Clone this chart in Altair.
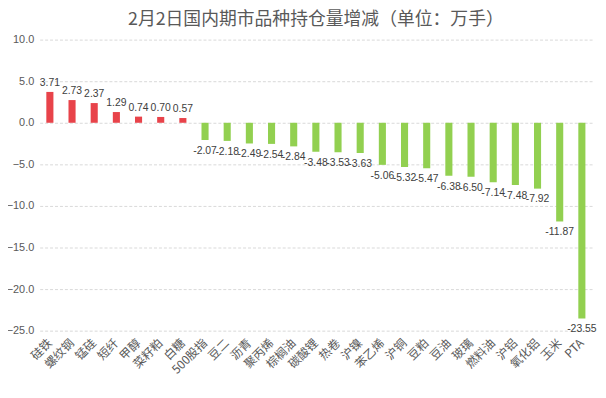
import altair as alt
import pandas as pd

categories = ["硅铁", "螺纹钢", "锰硅", "短纤", "甲醇", "菜籽粕", "白糖", "500股指", "豆二", "沥青",
              "聚丙烯", "棕榈油", "碳酸锂", "热卷", "沪镍", "苯乙烯", "沪铜", "豆粕", "豆油", "玻璃",
              "燃料油", "沪铝", "氧化铝", "玉米", "PTA"]
values = [3.71, 2.73, 2.37, 1.29, 0.74, 0.70, 0.57, -2.07, -2.18, -2.49,
          -2.54, -2.84, -3.48, -3.53, -3.63, -5.06, -5.32, -5.47, -6.38, -6.50,
          -7.14, -7.48, -7.92, -11.87, -23.55]
y_ticks = [10, 5, 0, -5, -10, -15, -20, -25]

df = pd.DataFrame({"cat": categories, "val": values})
df["sign"] = ["pos" if v >= 0 else "neg" for v in values]
df["label"] = [f"{v:.2f}" for v in values]

FONT = "Noto Sans CJK SC"
NUMFONT = "Liberation Sans"

x = alt.X("cat:N", sort=categories,
          scale=alt.Scale(paddingInner=0.68, paddingOuter=0.3),
          axis=alt.Axis(title=None, orient="bottom", labelAngle=-45, labelAlign="right",
                        labelBaseline="middle", labelPadding=10, domain=False, ticks=False,
                        labelFont=FONT, labelFontSize=12, labelColor="#595959",
                        labelOverlap=False))
y = alt.Y("val:Q", scale=alt.Scale(domain=[-25, 10], nice=False),
          axis=alt.Axis(title=None, values=y_ticks, format=".1f", domain=False, ticks=False,
                        grid=True, gridDash=[3, 2], gridColor="#D9D9D9",
                        labelFont=NUMFONT, labelFontSize=11, labelColor="#595959", labelPadding=6))

base = alt.Chart(df)
bars = base.mark_bar().encode(
    x=x, y=y, y2=alt.datum(0),
    color=alt.Color("sign:N", scale=alt.Scale(domain=["pos", "neg"], range=["#E8434A", "#92D050"]), legend=None),
)
pos_text = base.transform_filter("datum.val >= 0").mark_text(
    dy=-9, font=NUMFONT, fontSize=10.5, color="#404040"
).encode(x=x, y=y, text="label:N")
neg_text = base.transform_filter("datum.val < 0").mark_text(
    dy=11, font=NUMFONT, fontSize=10.5, color="#404040"
).encode(x=x, y=y, text="label:N")

chart = alt.layer(bars, pos_text, neg_text).properties(
    width=558, height=294,
    title=alt.TitleParams("2月2日国内期市品种持仓量增减（单位：万手）", font=FONT, fontSize=18,
                          fontWeight="normal", color="#595959", anchor="middle", offset=5),
    autosize=alt.AutoSizeParams(type="none"),
    padding={"left": 32, "top": 30, "right": 6, "bottom": 58},
).configure_view(stroke=None)

chart.save("out.html", embed_options={"renderer": "svg", "actions": False})
